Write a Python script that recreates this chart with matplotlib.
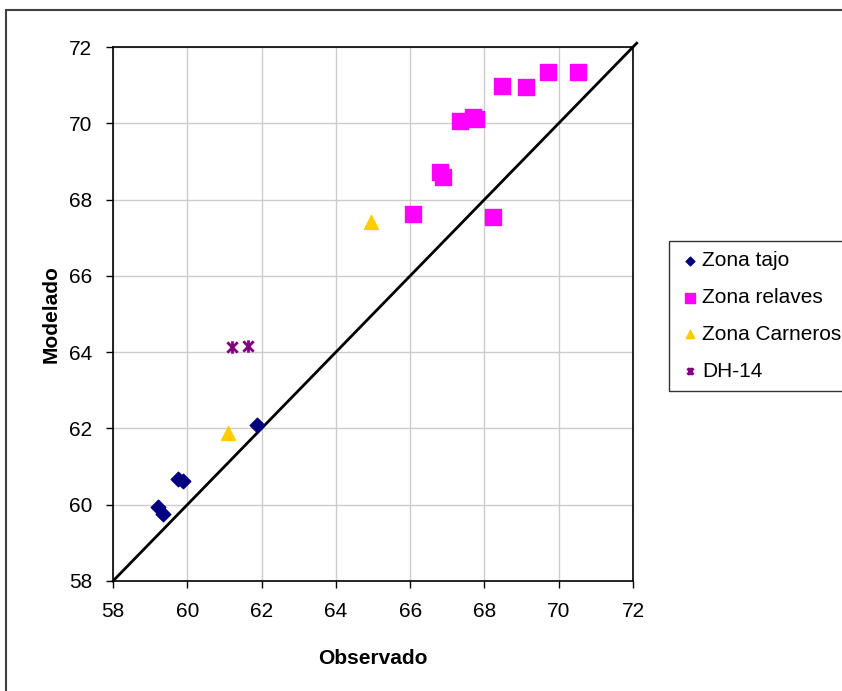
import matplotlib
matplotlib.use("Agg")
import matplotlib.pyplot as plt
from matplotlib.path import Path
from matplotlib.patches import Rectangle

plt.rcParams['font.family'] = ['Liberation Sans', 'DejaVu Sans']

# Data
tajo_obs = [59.21, 59.35, 59.75, 59.88, 61.88]
tajo_mod = [59.94, 59.76, 60.67, 60.62, 62.09]

relaves_obs = [66.08, 66.80, 66.89, 67.34, 67.69, 67.77, 68.47, 69.12, 69.71, 70.52, 68.23]
relaves_mod = [67.62, 68.72, 68.59, 70.05, 70.16, 70.10, 70.97, 70.94, 71.35, 71.35, 67.55]

carneros_obs = [61.10, 64.94]
carneros_mod = [61.88, 67.42]

dh_obs = [61.21, 61.63]
dh_mod = [64.14, 64.16]

ticks = [58, 60, 62, 64, 66, 68, 70, 72]

star = Path([(-1, -1), (1, 1), (-1, 1), (1, -1), (0, -1.2), (0, 1.2)],
            [Path.MOVETO, Path.LINETO, Path.MOVETO, Path.LINETO, Path.MOVETO, Path.LINETO])

fig = plt.figure(figsize=(8.42, 6.91), dpi=100)
fig.patches.append(Rectangle((6/842, -0.1), 1.2, 1 - 10/691 + 0.1, transform=fig.transFigure,
                             fill=False, edgecolor='#404040', linewidth=1.5, zorder=0))

ax = fig.add_axes([113/842, 1 - 581/691, (633-113)/842, (581-47)/691])
ax.set_xlim(58, 72)
ax.set_ylim(58, 72)
ax.set_xticks(ticks)
ax.set_yticks(ticks)
ax.grid(True, color='#cccccc', linewidth=1)
ax.set_axisbelow(True)
for s in ax.spines.values():
    s.set_color('black')
    s.set_linewidth(1.2)

ax.plot([58, 72.1], [58, 72.1], color='black', linewidth=2, clip_on=False, zorder=2)

ax.scatter(tajo_obs, tajo_mod, marker='D', s=55, color='#000080', label='Zona tajo', zorder=3)
ax.scatter(relaves_obs, relaves_mod, marker='s', s=120, color='#FF00FF', label='Zona relaves', zorder=3)
ax.scatter(carneros_obs, carneros_mod, marker='^', s=100, color='#FFCC00', label='Zona Carneros', zorder=3)
ax.scatter(dh_obs, dh_mod, marker=star, s=80, color='#800080', linewidths=2, label='DH-14', zorder=3)

ax.tick_params(axis='both', labelsize=15, length=5, width=1, direction='out', pad=10)
ax.set_xlabel('Observado', fontsize=15, fontweight='bold', labelpad=20)
ax.set_ylabel('Modelado', fontsize=15, fontweight='bold', labelpad=6)

leg = ax.legend(loc='upper left', bbox_to_anchor=(669/842, 1 - 241/691), bbox_transform=fig.transFigure,
                fontsize=15, frameon=True, fancybox=False, edgecolor='black', shadow=False,
                handletextpad=0.1, handlelength=1.0, labelspacing=0.85, borderpad=0.5,
                markerscale=0.6, borderaxespad=0)
leg.get_frame().set_linewidth(1.0)

fig.savefig('out.png', dpi=100)
